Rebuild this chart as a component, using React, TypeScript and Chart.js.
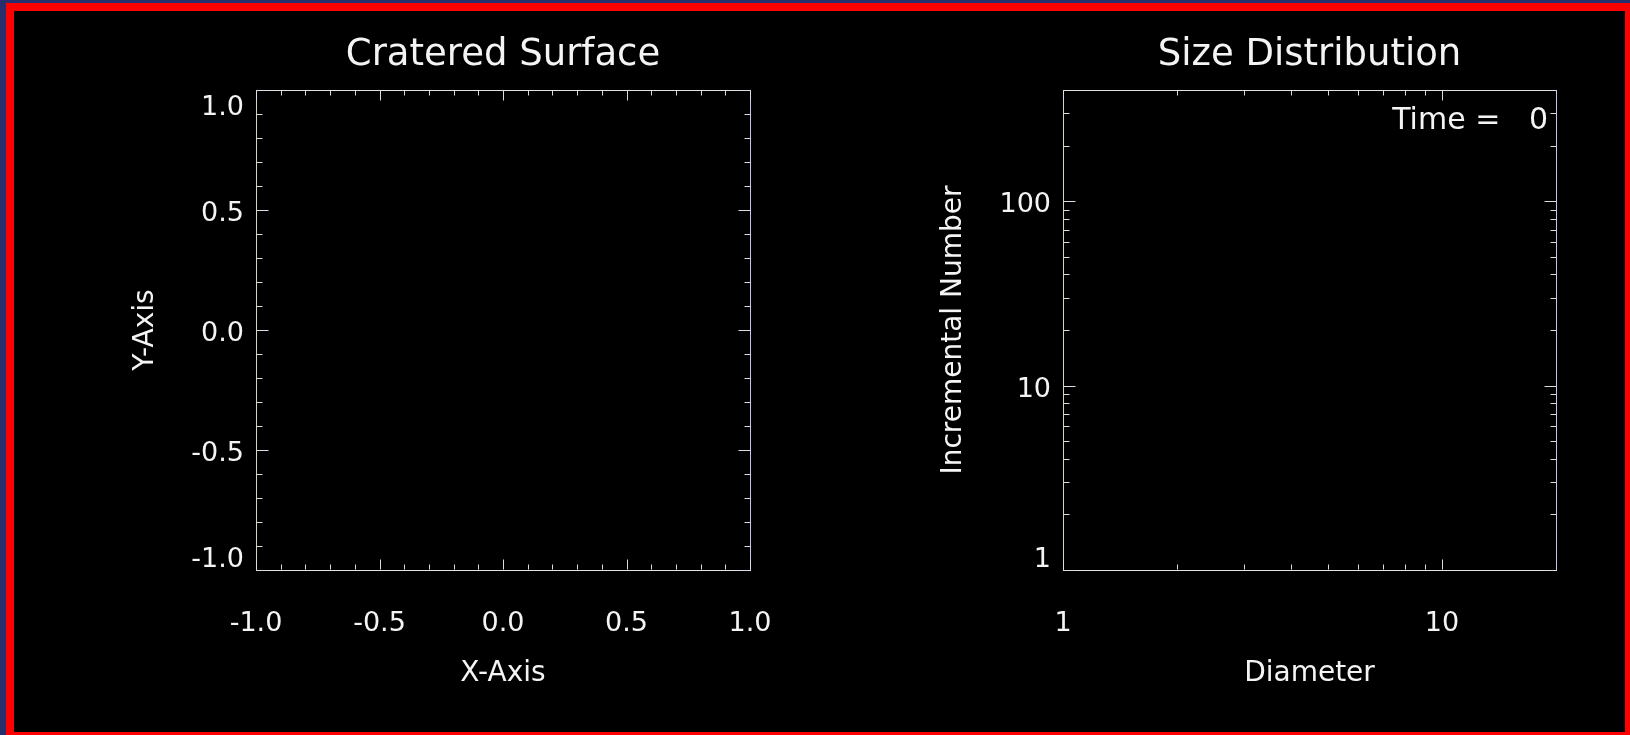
import React, { useEffect, useRef } from "react";
import { Chart, registerables } from "chart.js";

Chart.register(...registerables);

const FONT = "'DejaVu Sans', 'Liberation Sans', sans-serif";
const TEXT_COLOR = "#f4f4f4";
const TICK_COLOR = "#dcdce6";

// ---------- Left panel: Cratered Surface ----------
const SURFACE_TITLE = "Cratered Surface";
const SURFACE_X_TITLE = "X-Axis";
const SURFACE_Y_TITLE = "Y-Axis";
const SURFACE_MIN = -1;
const SURFACE_MAX = 1;
const SURFACE_MAJOR_TICKS = [-1, -0.5, 0, 0.5, 1];
const SURFACE_TICK_LABELS = ["-1.0", "-0.5", "0.0", "0.5", "1.0"];
const SURFACE_MINOR_TICKS = [
  -0.9, -0.8, -0.7, -0.6, -0.4, -0.3, -0.2, -0.1,
  0.1, 0.2, 0.3, 0.4, 0.6, 0.7, 0.8, 0.9,
];
// crater centres (none at time 0)
const CRATER_X: number[] = [];
const CRATER_Y: number[] = [];

// ---------- Right panel: Size Distribution ----------
const SIZE_TITLE = "Size Distribution";
const DIAMETER_TITLE = "Diameter";
const NUMBER_TITLE = "Incremental Number";
const DIAMETER_MIN = 1;
const DIAMETER_MAX = 20;
const NUMBER_MIN = 1;
const NUMBER_MAX = 400;
const DIAMETER_MAJOR_TICKS = [1, 10];
const DIAMETER_TICK_LABELS = ["1", "10"];
const DIAMETER_MINOR_TICKS = [2, 3, 4, 5, 6, 7, 8, 9];
const NUMBER_MAJOR_TICKS = [1, 10, 100];
const NUMBER_TICK_LABELS = ["1", "10", "100"];
const NUMBER_MINOR_TICKS = [2, 3, 4, 5, 6, 7, 8, 9, 20, 30, 40, 50, 60, 70, 80, 90, 200, 300];
// histogram (empty at time 0)
const DIAMETER_BINS: number[] = [];
const INCREMENTAL_COUNTS: number[] = [];
const TIME_STEP = 0;

type FrameCfg = {
  xMajor: number[];
  xMinor: number[];
  yMajor: number[];
  yMinor: number[];
  note?: string;
};

function makeFramePlugin(cfg: FrameCfg) {
  return {
    id: "frameTicks",
    afterDraw(chart: any) {
      const { ctx, chartArea } = chart;
      const xs = chart.scales.x;
      const ys = chart.scales.y;
      const L = Math.round(chartArea.left) + 0.5;
      const R = Math.round(chartArea.right) + 0.5;
      const T = Math.round(chartArea.top) + 0.5;
      const B = Math.round(chartArea.bottom) - 0.5;
      ctx.save();
      ctx.lineWidth = 1;
      const seg = (x1: number, y1: number, x2: number, y2: number, c: string) => {
        ctx.strokeStyle = c;
        ctx.beginPath();
        ctx.moveTo(x1, y1);
        ctx.lineTo(x2, y2);
        ctx.stroke();
      };
      // top and right edges of the frame
      seg(L - 0.5, T, R + 0.5, T, "#e2e2e2");
      seg(R, T, R, B + 0.5, "#c4c4ea");
      const xTick = (v: number, len: number) => {
        const px = Math.round(xs.getPixelForValue(v)) + 0.5;
        seg(px, B, px, B - len, TICK_COLOR);
        seg(px, T, px, T + len, TICK_COLOR);
      };
      const yTick = (v: number, len: number) => {
        const py = Math.round(ys.getPixelForValue(v)) + 0.5;
        seg(L, py, L + len, py, TICK_COLOR);
        seg(R, py, R - len, py, TICK_COLOR);
      };
      cfg.xMinor.forEach((v) => xTick(v, 5));
      cfg.xMajor.forEach((v) => xTick(v, 10));
      cfg.yMinor.forEach((v) => yTick(v, 6));
      cfg.yMajor.forEach((v) => yTick(v, 12));
      if (cfg.note) {
        ctx.fillStyle = TEXT_COLOR;
        ctx.font = `30px ${FONT}`;
        ctx.textAlign = "right";
        ctx.textBaseline = "alphabetic";
        ctx.fillText(cfg.note, chartArea.right - 8, chartArea.top + 38.5);
      }
      ctx.restore();
    },
  };
}

function titleOpts(text: string) {
  return {
    display: true,
    text,
    color: TEXT_COLOR,
    fullSize: false,
    font: { family: FONT, size: 37, weight: "normal" as const },
    padding: { top: 22.3, bottom: 12.3 },
  };
}

function xAxis(type: string, min: number, max: number, majors: number[], labels: string[], title: string) {
  return {
    type,
    position: "bottom",
    min,
    max,
    grid: { display: false, drawTicks: false, tickLength: 0 },
    border: { display: true, color: "#e4e4e4", width: 1 },
    afterBuildTicks: (s: any) => {
      s.ticks = majors.map((value) => ({ value }));
    },
    ticks: {
      callback: (_v: any, i: number) => labels[i],
      color: TEXT_COLOR,
      font: { family: FONT, size: 27 },
      padding: 37.5,
      maxRotation: 0,
      minRotation: 0,
      autoSkip: false,
    },
    title: {
      display: true,
      text: title,
      color: TEXT_COLOR,
      font: { family: FONT, size: 28 },
      padding: { top: 0, bottom: 41.5 },
    },
    afterFit: (s: any) => {
      s.height = 162;
    },
  };
}

function yAxis(type: string, min: number, max: number, majors: number[], labels: string[], title: string, width: number, titlePad: number) {
  return {
    type,
    position: "left",
    min,
    max,
    grid: { display: false, drawTicks: false, tickLength: 0 },
    border: { display: true, color: "#d2d6b4", width: 1 },
    afterBuildTicks: (s: any) => {
      s.ticks = majors.map((value) => ({ value }));
    },
    ticks: {
      // labels sitting on the frame corners are nudged inside the frame
      callback: (v: any, i: number) => {
        const lab = labels[i];
        if (Number(v) === min) return [lab, ""];
        if (Number(v) === max) return ["", lab];
        return lab;
      },
      color: TEXT_COLOR,
      font: { family: FONT, size: 27, lineHeight: 1.037 },
      padding: 12,
      labelOffset: 4,
      autoSkip: false,
    },
    title: {
      display: true,
      text: title,
      color: TEXT_COLOR,
      font: { family: FONT, size: 28 },
      padding: { top: titlePad, bottom: 0 },
    },
    afterFit: (s: any) => {
      s.width = width;
    },
  };
}

function Panel({ config, left, width }: { config: any; left: number; width: number }) {
  const ref = useRef<HTMLCanvasElement | null>(null);
  useEffect(() => {
    if (!ref.current) return;
    const chart = new Chart(ref.current, config);
    return () => chart.destroy();
  }, [config]);
  return (
    <canvas
      ref={ref}
      width={width}
      height={721}
      style={{ position: "absolute", left, top: 0, width, height: 721, display: "block" }}
    />
  );
}

const surfaceConfig: any = {
  type: "scatter",
  data: {
    datasets: [
      {
        data: CRATER_X.map((x, i) => ({ x, y: CRATER_Y[i] })),
        pointRadius: 2,
        backgroundColor: "#ffffff",
        borderColor: "#ffffff",
      },
    ],
  },
  options: {
    responsive: false,
    animation: false,
    devicePixelRatio: 1,
    layout: { padding: { left: 0, right: 80, top: 0, bottom: 0 } },
    plugins: {
      legend: { display: false },
      tooltip: { enabled: false },
      title: titleOpts(SURFACE_TITLE),
    },
    scales: {
      x: xAxis("linear", SURFACE_MIN, SURFACE_MAX, SURFACE_MAJOR_TICKS, SURFACE_TICK_LABELS, SURFACE_X_TITLE),
      y: yAxis("linear", SURFACE_MIN, SURFACE_MAX, SURFACE_MAJOR_TICKS, SURFACE_TICK_LABELS, SURFACE_Y_TITLE, 242, 115),
    },
  },
  plugins: [
    makeFramePlugin({
      xMajor: SURFACE_MAJOR_TICKS,
      xMinor: SURFACE_MINOR_TICKS,
      yMajor: SURFACE_MAJOR_TICKS,
      yMinor: SURFACE_MINOR_TICKS,
    }),
  ],
};

const sizeConfig: any = {
  type: "scatter",
  data: {
    datasets: [
      {
        data: DIAMETER_BINS.map((x, i) => ({ x, y: INCREMENTAL_COUNTS[i] })),
        showLine: true,
        stepped: true,
        pointRadius: 0,
        borderColor: "#ffffff",
        borderWidth: 1,
      },
    ],
  },
  options: {
    responsive: false,
    animation: false,
    devicePixelRatio: 1,
    layout: { padding: { left: 0, right: 69, top: 0, bottom: 0 } },
    plugins: {
      legend: { display: false },
      tooltip: { enabled: false },
      title: titleOpts(SIZE_TITLE),
    },
    scales: {
      x: xAxis("logarithmic", DIAMETER_MIN, DIAMETER_MAX, DIAMETER_MAJOR_TICKS, DIAMETER_TICK_LABELS, DIAMETER_TITLE),
      y: yAxis("logarithmic", NUMBER_MIN, NUMBER_MAX, NUMBER_MAJOR_TICKS, NUMBER_TICK_LABELS, NUMBER_TITLE, 233, 107),
    },
  },
  plugins: [
    makeFramePlugin({
      xMajor: DIAMETER_MAJOR_TICKS,
      xMinor: DIAMETER_MINOR_TICKS,
      yMajor: NUMBER_MAJOR_TICKS,
      yMinor: NUMBER_MINOR_TICKS,
      note: "Time = " + String(TIME_STEP).padStart(3, " "),
    }),
  ],
};

export default function App() {
  return (
    <div
      style={{
        position: "fixed",
        left: 0,
        top: 0,
        width: 1630,
        height: 735,
        background: "#292e6c",
        overflow: "hidden",
      }}
    >
      <div
        style={{
          position: "absolute",
          left: 6,
          top: 3,
          width: 1627,
          height: 737,
          boxSizing: "border-box",
          border: "8px solid #ff0000",
          background: "#000000",
        }}
      >
        <Panel config={surfaceConfig} left={0} width={816} />
        <Panel config={sizeConfig} left={816} width={795} />
      </div>
    </div>
  );
}
